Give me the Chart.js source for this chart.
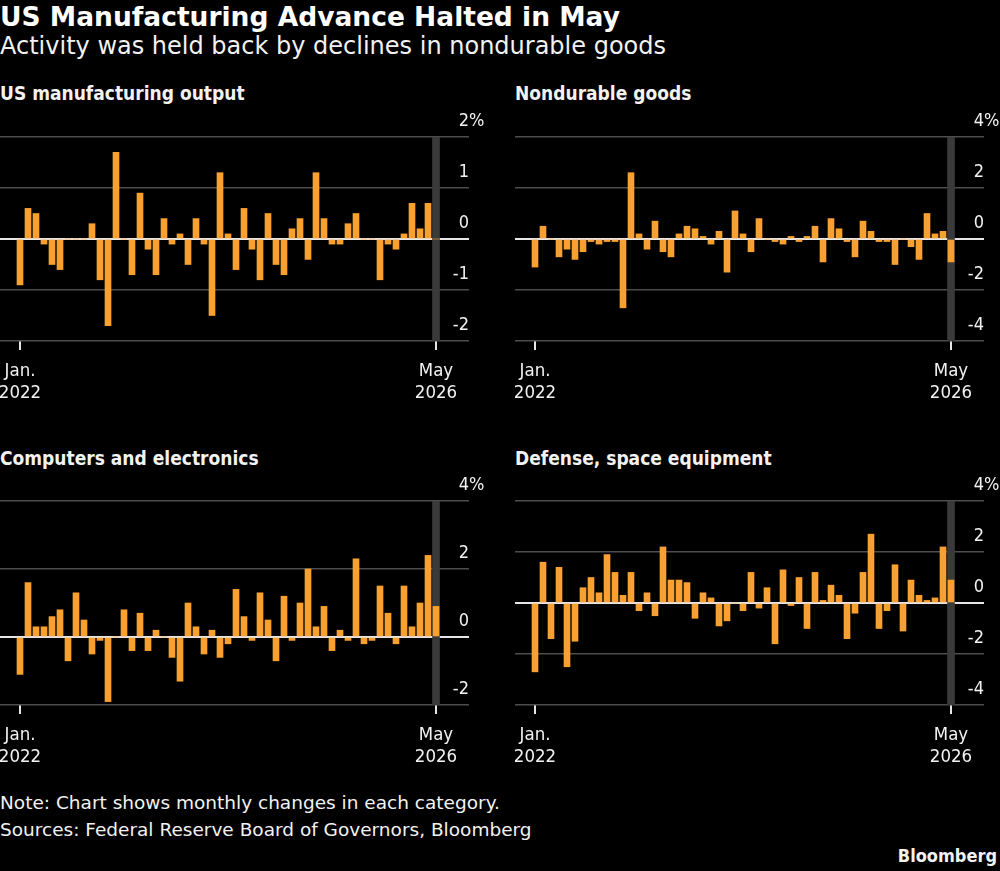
<!DOCTYPE html>
<html>
<head>
<meta charset="utf-8">
<script src="https://cdn.jsdelivr.net/npm/chart.js@4"></script>
<style>
    body {
        margin: 0;
        width: 1000px;
        height: 871px;
        background: #000;
        color: #f2f2f2;
        font-family: 'DejaVu Sans Condensed', 'DejaVu Sans', sans-serif;
        position: relative;
        overflow: hidden;
    }
    .txt { position: absolute; white-space: nowrap; }
    .title { left: 0; top: 1px; font-family: 'DejaVu Sans', sans-serif; font-size: 26.5px; font-weight: bold; color: #fff; }
    .subtitle { left: 0; top: 32px; font-family: 'DejaVu Sans', sans-serif; font-size: 24px; }
    .ptitle { font-size: 19px; font-weight: bold; }
    .note { left: 0; font-family: 'DejaVu Sans', sans-serif; font-size: 18.5px; }
    .brand { right: 3px; top: 845px; font-size: 18px; font-weight: bold; }
    canvas { position: absolute; }
</style>
</head>
<body>
<div class="txt title">US Manufacturing Advance Halted in May</div>
<div class="txt subtitle">Activity was held back by declines in nondurable goods</div>

<div class="txt ptitle" style="left:0;top:82px">US manufacturing output</div>
<div class="txt ptitle" style="left:515px;top:82px">Nondurable goods</div>
<div class="txt ptitle" style="left:0;top:447px">Computers and electronics</div>
<div class="txt ptitle" style="left:515px;top:447px">Defense, space equipment</div>

<canvas id="c1" width="485" height="300" style="left:0;top:110px"></canvas>
<canvas id="c2" width="485" height="300" style="left:515px;top:110px"></canvas>
<canvas id="c3" width="485" height="300" style="left:0;top:474px"></canvas>
<canvas id="c4" width="485" height="300" style="left:515px;top:474px"></canvas>

<div class="txt note" style="top:792px">Note: Chart shows monthly changes in each category.</div>
<div class="txt note" style="top:819px">Sources: Federal Reserve Board of Governors, Bloomberg</div>
<div class="txt brand">Bloomberg</div>

<script>
// monthly % changes, Jan 2022 - May 2026
const months = [
    '2022-01', '2022-02', '2022-03', '2022-04', '2022-05', '2022-06', '2022-07', '2022-08', '2022-09', '2022-10', '2022-11', '2022-12',
    '2023-01', '2023-02', '2023-03', '2023-04', '2023-05', '2023-06', '2023-07', '2023-08', '2023-09', '2023-10', '2023-11', '2023-12',
    '2024-01', '2024-02', '2024-03', '2024-04', '2024-05', '2024-06', '2024-07', '2024-08', '2024-09', '2024-10', '2024-11', '2024-12',
    '2025-01', '2025-02', '2025-03', '2025-04', '2025-05', '2025-06', '2025-07', '2025-08', '2025-09', '2025-10', '2025-11', '2025-12',
    '2026-01', '2026-02', '2026-03', '2026-04', '2026-05'
];

const manufacturing = [
    -0.9, 0.6, 0.5, -0.1, -0.5, -0.6, 0, 0, 0, 0.3, -0.8, -1.7,
    1.7, 0, -0.7, 0.9, -0.2, -0.7, 0.4, -0.1, 0.1, -0.5, 0.4, -0.1,
    -1.5, 1.3, 0.1, -0.6, 0.6, -0.2, -0.8, 0.5, -0.5, -0.7, 0.2, 0.4,
    -0.4, 1.3, 0.4, -0.1, -0.1, 0.3, 0.5, 0, 0, -0.8, -0.1, -0.2,
    0.1, 0.7, 0.2, 0.7, 0
];

const nondurable = [
    -1.1, 0.5, 0, -0.7, -0.4, -0.8, -0.5, -0.1, -0.2, -0.1, -0.1, -2.7,
    2.6, 0.2, -0.4, 0.7, -0.5, -0.7, 0.2, 0.5, 0.4, 0.1, -0.2, 0.3,
    -1.3, 1.1, 0.2, -0.5, 0.8, 0, -0.1, -0.2, 0.1, -0.1, 0.1, 0.5,
    -0.9, 0.8, 0.4, -0.1, -0.7, 0.7, 0.3, -0.1, -0.1, -1.0, 0, -0.3,
    -0.8, 1.0, 0.2, 0.3, -0.9
];

const computers = [
    -1.1, 1.6, 0.3, 0.3, 0.6, 0.8, -0.7, 1.3, 0.5, -0.5, -0.1, -1.9,
    0, 0.8, -0.4, 0.7, -0.4, 0.2, 0, -0.6, -1.3, 1.0, 0.3, -0.5,
    0.2, -0.6, -0.2, 1.4, 0.6, -0.1, 1.3, 0.5, -0.7, 1.2, -0.1, 1.0,
    2.0, 0.3, 0.9, -0.4, 0.2, -0.1, 2.3, -0.2, -0.1, 1.5, 0.7, -0.2,
    1.5, 0.3, 1.0, 2.4, 0.9
];

const defense = [
    -2.7, 1.6, -1.4, 1.4, -2.5, -1.5, 0.6, 1.0, 0.4, 1.9, 1.2, 0.3,
    1.2, -0.3, 0.4, -0.5, 2.2, 0.9, 0.9, 0.8, -0.6, 0.4, 0.2, -0.9,
    -0.7, 0, -0.3, 1.2, -0.2, 0.6, -1.6, 1.3, -0.1, 1.0, -1.0, 1.2,
    0.1, 0.7, 0.3, -1.4, -0.4, 1.2, 2.7, -1.0, -0.3, 1.5, -1.1, 0.9,
    0.3, 0.1, 0.2, 2.2, 0.9
];

const xTickLabels = [['Jan.', '2022'], ['May', '2026']];
const xTickIndex = [0, months.length - 1];

const barColor = '#f9a12e';
const textColor = '#f2f2f2';
const fontFamily = "'DejaVu Sans Condensed', 'DejaVu Sans', sans-serif";

// draws the % sign hanging past the top y label
const percentSign = {
    id: 'percentSign',
    afterDraw(chart) {
        const y = chart.scales.y;
        const ctx = chart.ctx;
        ctx.save();
        ctx.fillStyle = textColor;
        ctx.font = '18px ' + fontFamily;
        ctx.textAlign = 'left';
        ctx.textBaseline = 'middle';
        ctx.fillText('%', chart.chartArea.right, y.getPixelForValue(y.max) - 16);
        ctx.restore();
    }
};

function makePanel(id, values, yMin, yMax, yStep) {
    const last = values.length - 1;
    new Chart(document.getElementById(id), {
        type: 'bar',
        data: {
            datasets: [{
                data: values.map((v, i) => ({ x: i, y: v })),
                backgroundColor: barColor,
                borderWidth: 0,
                barThickness: 6,
                grouped: false,
                order: 1
            }, {
                // grey band behind the latest month
                data: [{ x: last, y: [yMin, yMax] }],
                backgroundColor: '#3a3a3a',
                borderWidth: 0,
                barThickness: 7,
                grouped: false,
                order: 2
            }]
        },
        options: {
            responsive: false,
            animation: false,
            devicePixelRatio: 1,
            layout: { padding: { top: 27, right: 16, left: 0, bottom: 0 } },
            plugins: { legend: { display: false }, tooltip: { enabled: false } },
            scales: {
                x: {
                    type: 'linear',
                    min: -2.5,
                    max: 56.125,
                    offset: false,
                    border: { display: false },
                    grid: {
                        offset: false,
                        drawOnChartArea: false,
                        drawTicks: true,
                        tickLength: 9,
                        color: '#e6e6e6',
                        lineWidth: 2
                    },
                    afterBuildTicks: function(scale) {
                        scale.ticks = xTickIndex.map(v => ({ value: v }));
                    },
                    afterFit: function(scale) {
                        scale.paddingLeft = 0;
                        scale.paddingRight = 0;
                        scale.height = 69;
                    },
                    ticks: {
                        autoSkip: false,
                        maxRotation: 0,
                        minRotation: 0,
                        padding: 11,
                        color: textColor,
                        font: { size: 18.5, family: fontFamily, lineHeight: 1.15 },
                        callback: function(value) {
                            return xTickLabels[xTickIndex.indexOf(value)];
                        }
                    }
                },
                y: {
                    position: 'right',
                    min: yMin,
                    max: yMax,
                    border: { display: false },
                    grid: {
                        drawTicks: false,
                        color: c => c.tick.value === 0 ? '#e6e6e6' : '#4d4d4d',
                        lineWidth: c => c.tick.value === 0 ? 2 : 1.5
                    },
                    afterFit: function(scale) {
                        scale.width = 0;
                        scale.paddingTop = 0;
                        scale.paddingBottom = 0;
                    },
                    ticks: {
                        stepSize: yStep,
                        mirror: true,
                        padding: 0,
                        labelOffset: -16,
                        color: textColor,
                        font: { size: 18, family: fontFamily }
                    }
                }
            }
        },
        plugins: [percentSign]
    });
}

makePanel('c1', manufacturing, -2, 2, 1);
makePanel('c2', nondurable, -4, 4, 2);
makePanel('c3', computers, -2, 4, 2);
makePanel('c4', defense, -4, 4, 2);
</script>
</body>
</html>
